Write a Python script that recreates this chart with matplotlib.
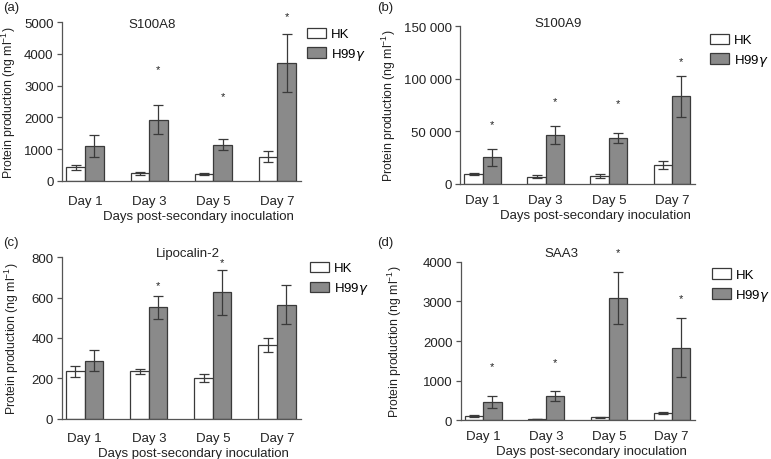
import matplotlib
matplotlib.use("Agg")
import matplotlib.pyplot as plt
import numpy as np

plt.rcParams['font.family'] = ['Liberation Sans', 'DejaVu Sans']
plt.rcParams['mathtext.fontset'] = 'dejavusans'

days = ["Day 1", "Day 3", "Day 5", "Day 7"]

# (a) S100A8
a_hk = [430, 240, 210, 755]
a_hk_err = [80, 45, 20, 180]
a_h99 = [1090, 1930, 1140, 3710]
a_h99_err = [350, 450, 170, 920]
a_star = [None, 3510, 2670, 5210]

# (b) S100A9
b_hk = [9200, 6700, 7300, 17500]
b_hk_err = [1000, 1500, 1700, 3800]
b_h99 = [25100, 46400, 43500, 83300]
b_h99_err = [8000, 9000, 4800, 19700]
b_star = [56900, 78800, 76900, 116600]

# (c) Lipocalin-2
c_hk = [236, 235, 202, 365]
c_hk_err = [27, 12, 18, 33]
c_h99 = [288, 552, 626, 565]
c_h99_err = [52, 57, 111, 98]
c_star = [None, 664, 775, None]

# (d) SAA3
d_hk = [109, 34, 76, 193]
d_hk_err = [15, 10, 10, 25]
d_h99 = [470, 622, 3092, 1832]
d_h99_err = [150, 125, 655, 740]
d_star = [1378, 1462, 4235, 3075]

GRAY = "#8a8a8a"
EDGE = "#3a3a3a"
SPINE = "#555555"
TXT = "#222222"

fig = plt.figure(figsize=(7.71, 4.60), dpi=100)

panels = [
    # label, title, hk, hk_err, h99, h99_err, star, ymax, yticks, ticklabels,
    # axes rect, title pos, ylabel x, xlabel x, legend anchor, panel label pos,
    # x tick pad (pt), xlabel offset (px)
    ("(a)", "S100A8", a_hk, a_hk_err, a_h99, a_h99_err, a_star, 5000,
     [0, 1000, 2000, 3000, 4000, 5000], None,
     [0.0804, 0.605, 0.310, 0.3443], (0.377, 0.99), -0.184, 0.569,
     (0.398, 0.938), (0.004, 0.982), 10, 29.7),
    ("(b)", "S100A9", b_hk, b_hk_err, b_h99, b_h99_err, b_star, 150000,
     [0, 50000, 100000, 150000], ["0", "50 000", "100 000", "150 000"],
     [0.5966, 0.5985, 0.305, 0.3422], (0.417, 1.02), -0.264, 0.574,
     (0.921, 0.925), (0.489, 0.982), 7.3, 25.0),
    ("(c)", "Lipocalin-2", c_hk, c_hk_err, c_h99, c_h99_err, c_star, 800,
     [0, 200, 400, 600, 800], None,
     [0.080, 0.0876, 0.310, 0.3509], (0.528, 1.027), -0.170, 0.551,
     (0.402, 0.429), (0.004, 0.472), 9.3, 28.0),
    ("(d)", "SAA3", d_hk, d_hk_err, d_h99, d_h99_err, d_star, 4000,
     [0, 1000, 2000, 3000, 4000], None,
     [0.5975, 0.0841, 0.3039, 0.3448], (0.432, 1.055), -0.242, 0.56,
     (0.923, 0.415), (0.489, 0.472), 7.0, 25.0),
]

x = np.arange(len(days))
w = 0.29
H = 460

for (lab, title, hk, hk_err, h99, h99_err, star, ymax, yt, ytl,
     rect, tpos, ylx, xlx, leg_anchor, lab_pos, xpad, xoff) in panels:
    ax = fig.add_axes(rect)
    ax.bar(x - w / 2, hk, w, yerr=hk_err, color="white", edgecolor=EDGE,
           linewidth=0.9, label="HK",
           error_kw=dict(ecolor=EDGE, elinewidth=0.9, capsize=3.5, capthick=0.9))
    ax.bar(x + w / 2, h99, w, yerr=h99_err, color=GRAY, edgecolor=EDGE,
           linewidth=0.9, label=r"H99$\gamma$",
           error_kw=dict(ecolor=EDGE, elinewidth=0.9, capsize=3.5, capthick=0.9))
    for i, s in enumerate(star):
        if s is not None:
            ax.text(x[i] + w / 2, s, "*", ha="center", va="center",
                    fontsize=8, color=TXT)

    ax.set_xlim(-0.36, 3.37)
    ax.set_ylim(0, ymax)
    ax.set_yticks(yt)
    if ytl is not None:
        ax.set_yticklabels(ytl)
    ax.set_xticks(x)
    ax.set_xticklabels(days)
    for sp in ["top", "right"]:
        ax.spines[sp].set_visible(False)
    for sp in ["left", "bottom"]:
        ax.spines[sp].set_color(SPINE)
        ax.spines[sp].set_linewidth(0.9)
    ax.tick_params(axis="x", length=0, pad=xpad, labelsize=9.5, colors=TXT)
    ax.tick_params(axis="y", length=3.5, width=0.9, color=SPINE, pad=2.5,
                   labelsize=9.5, labelcolor=TXT)

    ax.set_ylabel(r"Protein production (ng ml$^{\mathregular{-1}}$)",
                  fontsize=8.8, color=TXT)
    ax.yaxis.set_label_coords(ylx, 0.5)
    ax.set_xlabel("Days post-secondary inoculation", fontsize=9.5, color=TXT)
    ax_h = rect[3] * H
    ax.xaxis.set_label_coords(xlx, -xoff / ax_h)

    ax.text(tpos[0], tpos[1], title, transform=ax.transAxes, ha="center",
            va="center", fontsize=9.5, color=TXT)
    fig.text(lab_pos[0], lab_pos[1], lab, ha="left", va="center",
             fontsize=9.5, color=TXT)

    ax.legend(loc="upper left", bbox_to_anchor=leg_anchor,
              bbox_transform=fig.transFigure, frameon=False, fontsize=9.5,
              handlelength=1.45, handleheight=0.85, handletextpad=0.35,
              labelspacing=0.45, borderpad=0, borderaxespad=0)

fig.savefig("out.png", dpi=100)
